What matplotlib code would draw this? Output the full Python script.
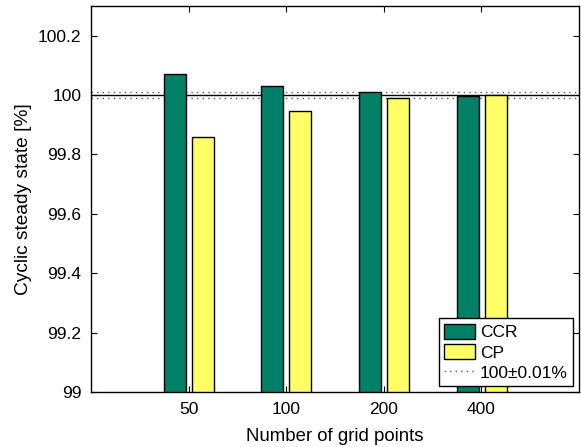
import matplotlib
matplotlib.use("Agg")
import matplotlib.pyplot as plt
import numpy as np

# grid refinement study: cyclic steady state in percent
grid_points = ["50", "100", "200", "400"]
ccr = [100.07, 100.03, 100.01, 99.998]
cp = [99.858, 99.948, 99.99, 99.999]
tolerance = 0.01

plt.rcParams['font.family'] = ['Liberation Sans', 'DejaVu Sans']
plt.rcParams['font.size'] = 12.5

fig = plt.figure(figsize=(5.81, 4.47), dpi=100)
ax = fig.add_axes([91/581, 1 - 392/447, 488/581, 386/447])

x = np.arange(1, len(grid_points) + 1)
width = 0.225
base = 99.0

b1 = ax.bar(x - 0.142, np.array(ccr) - base, width, bottom=base, color="#008066",
            edgecolor="black", linewidth=1.0, label="CCR", zorder=3)
b2 = ax.bar(x + 0.146, np.array(cp) - base, width, bottom=base, color="#FFFF66",
            edgecolor="black", linewidth=1.0, label="CP", zorder=3)

ax.axhline(100, color="black", linewidth=1.0, zorder=1)
tol, = ax.plot([0, 5], [100 + tolerance] * 2, color="#555555", linestyle=(0, (1, 3)),
               linewidth=1.0, label="100\u00b10.01%", zorder=1)
ax.plot([0, 5], [100 - tolerance] * 2, color="#555555", linestyle=(0, (1, 3)),
        linewidth=1.0, zorder=1)

ax.set_xlim(0, 5)
ax.set_ylim(99, 100.3)
ax.set_xticks(x)
ax.set_xticklabels(grid_points)
ax.set_yticks([99, 99.2, 99.4, 99.6, 99.8, 100, 100.2])
ax.set_yticklabels(["99", "99.2", "99.4", "99.6", "99.8", "100", "100.2"])
ax.tick_params(direction="in", top=True, right=True, length=4, width=0.8, pad=7)
for s in ax.spines.values():
    s.set_linewidth(1.0)

ax.set_xlabel("Number of grid points", fontsize=13.4, labelpad=8)
ax.set_ylabel("Cyclic steady state [%]", fontsize=13.8, labelpad=4)

leg = ax.legend([b1, b2, tol], ["CCR", "CP", "100\u00b10.01%"], loc="lower right",
                fancybox=False, framealpha=1, edgecolor="black",
                borderaxespad=0.35, handlelength=1.8, handleheight=1.0,
                handletextpad=0.25, borderpad=0.3, labelspacing=0.2)
leg.get_frame().set_linewidth(1.0)

fig.savefig("out.png", dpi=100)
